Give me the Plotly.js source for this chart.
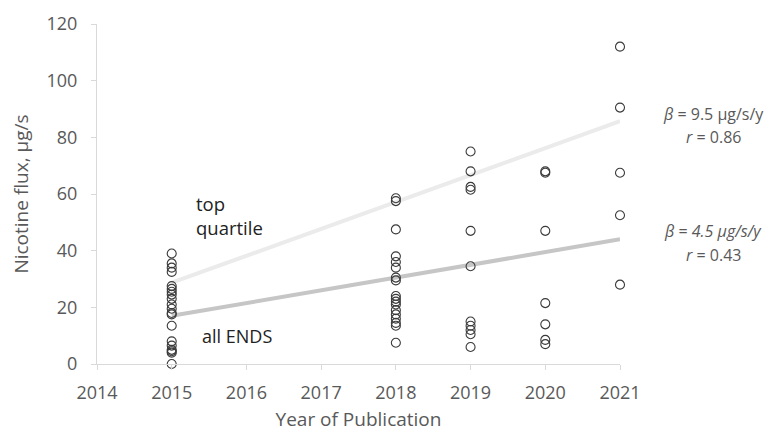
<!DOCTYPE html>
<html>
<head>
<meta charset="utf-8">
<script src="https://cdn.plot.ly/plotly-3.0.1.min.js"></script>
<style>html,body{margin:0;padding:0;background:#fff;}#chart{width:778px;height:432px;}</style>
</head>
<body>
<div id="chart"></div>
<script>
// Data
const years2015 = [39, 35.5, 34, 32.5, 27.5, 26.5, 25.5, 24.5, 23, 21, 19.5, 18, 17.5, 13.5, 8, 6.5, 5, 4.5, 4, 0];
const years2018 = [58.5, 57.5, 47.5, 38, 36, 34, 30.5, 29.5, 24, 23, 22, 21, 19, 17.5, 16, 14.5, 13.5, 7.5];
const years2019 = [75, 68, 62.5, 61.5, 47, 34.5, 15, 13.5, 12, 10.5, 6];
const years2020 = [68, 67.5, 47, 21.5, 14, 8.5, 7];
const years2021 = [112, 90.5, 67.5, 52.5, 28];

const trendYears = [2015, 2021];
const topQuartileTrend = [28.7, 85.7];
const allEndsTrend = [17, 44];

const xTicks = [2014, 2015, 2016, 2017, 2018, 2019, 2020, 2021];
const yTicks = [0, 20, 40, 60, 80, 100, 120];

const groups = [[2015, years2015], [2018, years2018], [2019, years2019], [2020, years2020], [2021, years2021]];
const px = [], py = [];
groups.forEach(([yr, vals]) => vals.forEach(v => { px.push(yr); py.push(v); }));

const FONT = '"Open Sans", Lato, sans-serif';
const traces = [
  {x: trendYears, y: topQuartileTrend, mode: 'lines', line: {color: '#ebebeb', width: 4}, hoverinfo: 'skip', cliponaxis: false},
  {x: trendYears, y: allEndsTrend, mode: 'lines', line: {color: '#c6c6c6', width: 4}, hoverinfo: 'skip', cliponaxis: false},
  {x: px, y: py, mode: 'markers', cliponaxis: false,
   marker: {symbol: 'circle-open', size: 9, color: '#3a3a3a', line: {width: 1.1, color: '#3a3a3a'}}}
];

const layout = {
  width: 778, height: 432,
  margin: {l: 97, r: 158, t: 24, b: 68},
  paper_bgcolor: '#fff', plot_bgcolor: '#fff',
  showlegend: false,
  font: {family: FONT, color: '#595959', size: 18},
  xaxis: {
    range: [2014, 2021], tickvals: xTicks, ticktext: xTicks.map(String),
    showgrid: false, zeroline: false, showline: true, linecolor: '#d9d9d9', linewidth: 1,
    ticks: 'outside', ticklen: 5, tickcolor: '#d9d9d9', ticklabelstandoff: 7,
    tickfont: {size: 18, color: '#595959'},
    title: {text: 'Year of Publication', font: {size: 19, color: '#595959'}, standoff: 14}
  },
  yaxis: {
    range: [0, 120], tickvals: yTicks,
    showgrid: false, zeroline: false, showline: true, linecolor: '#d9d9d9', linewidth: 1,
    ticks: 'outside', ticklen: 5, tickcolor: '#d9d9d9', ticklabelstandoff: 10,
    tickfont: {size: 18, color: '#595959'},
    title: {text: 'Nicotine flux, µg/s', font: {size: 19, color: '#595959'}, standoff: 12}
  },
  annotations: [
    {x: 2015.3, y: 52.5, xref: 'x', yref: 'y', text: 'top<br>quartile', showarrow: false, xanchor: 'left', align: 'left',
     font: {size: 18.5, color: '#222'}},
    {x: 2015.38, y: 10, xref: 'x', yref: 'y', text: 'all ENDS', showarrow: false, xanchor: 'left',
     font: {size: 18, color: '#222'}},
    {x: 1.178, y: 0.735, xref: 'paper', yref: 'paper', xanchor: 'center', yanchor: 'middle',
     text: '<i>β</i> = 9.5 µg/s/y', showarrow: false, font: {size: 16, color: '#595959'}},
    {x: 1.178, y: 0.667, xref: 'paper', yref: 'paper', xanchor: 'center', yanchor: 'middle',
     text: '<i>r</i> = 0.86', showarrow: false, font: {size: 16, color: '#595959'}},
    {x: 1.178, y: 0.39, xref: 'paper', yref: 'paper', xanchor: 'center', yanchor: 'middle',
     text: '<i>β</i> = <i>4.5 μg/s/y</i>', showarrow: false, font: {size: 16, color: '#595959'}},
    {x: 1.178, y: 0.322, xref: 'paper', yref: 'paper', xanchor: 'center', yanchor: 'middle',
     text: '<i>r</i> = 0.43', showarrow: false, font: {size: 16, color: '#595959'}}
  ]
};

Plotly.newPlot('chart', traces, layout, {displayModeBar: false, staticPlot: true});
</script>
</body>
</html>
